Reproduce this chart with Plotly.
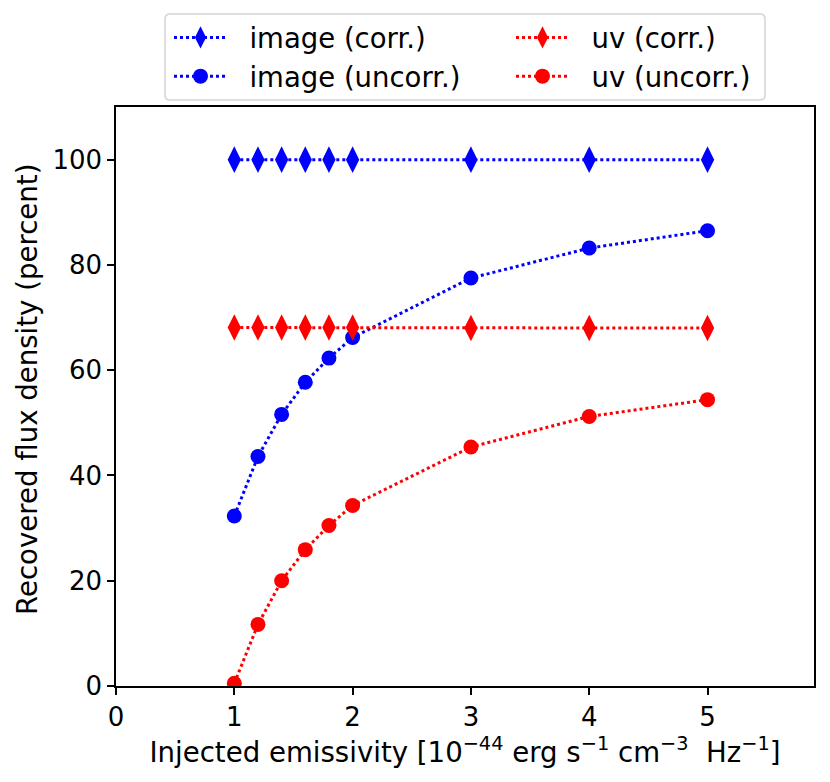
import plotly.graph_objects as go

x = [1.0, 1.2, 1.4, 1.6, 1.8, 2.0, 3.0, 4.0, 5.0]
image_corr = [100.0, 100.0, 100.0, 100.0, 100.0, 100.0, 100.0, 100.0, 100.0]
image_uncorr = [32.3, 43.6, 51.6, 57.7, 62.3, 66.2, 77.5, 83.2, 86.5]
uv_corr = [68.1, 68.1, 68.1, 68.1, 68.1, 68.1, 68.0, 68.0, 68.0]
uv_uncorr = [0.5, 11.7, 20.0, 25.9, 30.5, 34.3, 45.4, 51.2, 54.4]

x_ticks = [0, 1, 2, 3, 4, 5]
y_ticks = [0, 20, 40, 60, 80, 100]

FONT = "DejaVu Sans"
FS = 26      # tick labels
FS_T = 27.6  # axis titles
FS_L = 27.5  # legend

W, H = 830, 782
ML, MR, MT, MB = 108, 24, 99, 104
PW, PH = W - ML - MR, H - MT - MB

fig = go.Figure()

def add(name, ys, color, symbol, size, legend):
    fig.add_trace(go.Scatter(
        x=x, y=ys, name="\u00a0\u00a0" + name, mode="lines+markers",
        line=dict(color=color, width=3, dash="dot"),
        marker=dict(color=color, symbol=symbol, size=size, line=dict(width=0)),
        legend=legend,
    ))

add("image (corr.)", image_corr, "blue", "diamond-tall", 19, "legend")
add("image (uncorr.)", image_uncorr, "blue", "circle", 15, "legend")
add("uv (corr.)", uv_corr, "red", "diamond-tall", 19, "legend2")
add("uv (uncorr.)", uv_uncorr, "red", "circle", 15, "legend2")

leg_common = dict(
    orientation="v", xref="container", yref="container",
    xanchor="left", yanchor="top", y=1 - 5 / H,
    bgcolor="rgba(0,0,0,0)", bordercolor="rgba(0,0,0,0)", borderwidth=0,
    font=dict(family=FONT, size=FS_L), traceorder="normal", itemwidth=53,
)

def px(v):
    return (v - ML) / PW
def py(v):
    return (H - MB - v) / PH

# rounded legend frame (figure pixel box -> paper coords)
bx0, bx1, by0, by1, rad = 157, 757, 6, 92, 5
path = (
    f"M {px(bx0 + rad)},{py(by0)} L {px(bx1 - rad)},{py(by0)} "
    f"Q {px(bx1)},{py(by0)} {px(bx1)},{py(by0 + rad)} "
    f"L {px(bx1)},{py(by1 - rad)} Q {px(bx1)},{py(by1)} {px(bx1 - rad)},{py(by1)} "
    f"L {px(bx0 + rad)},{py(by1)} Q {px(bx0)},{py(by1)} {px(bx0)},{py(by1 - rad)} "
    f"L {px(bx0)},{py(by0 + rad)} Q {px(bx0)},{py(by0)} {px(bx0 + rad)},{py(by0)} Z"
)

fig.update_layout(
    width=W, height=H,
    paper_bgcolor="white", plot_bgcolor="white",
    margin=dict(l=ML, r=MR, t=MT, b=MB, autoexpand=False),
    font=dict(family=FONT, size=FS, color="black"),
    showlegend=True,
    legend=dict(x=161 / W, **leg_common),
    legend2=dict(x=503 / W, **leg_common),
    shapes=[dict(type="path", path=path, xref="paper", yref="paper",
                 line=dict(color="#d3d3d3", width=1.5), fillcolor="rgba(0,0,0,0)")],
    annotations=[dict(
        text="Recovered flux density (percent)", textangle=-90,
        xref="paper", yref="paper", x=px(19), y=py(382),
        xanchor="center", yanchor="middle", showarrow=False,
        font=dict(family=FONT, size=FS_T, color="black"),
    )],
    xaxis=dict(
        range=[0, 5.9], tickvals=x_ticks, ticktext=[str(v) for v in x_ticks],
        showline=True, linecolor="black", linewidth=1.5, mirror=True,
        ticks="outside", ticklen=7, tickwidth=1.5, tickcolor="black",
        showgrid=False, zeroline=False,
        title=dict(text="Injected emissivity [10<sup>−44</sup> erg s<sup>−1</sup> cm<sup>−3</sup>  Hz<sup>−1</sup>]",
                   font=dict(size=FS_T), standoff=2),
    ),
    yaxis=dict(
        range=[0, 110], tickvals=y_ticks, ticktext=[str(v) for v in y_ticks],
        showline=True, linecolor="black", linewidth=1.5, mirror=True,
        ticks="outside", ticklen=7, tickwidth=1.5, tickcolor="black",
        showgrid=False, zeroline=False,
    ),
)

fig.write_html("out.html")
